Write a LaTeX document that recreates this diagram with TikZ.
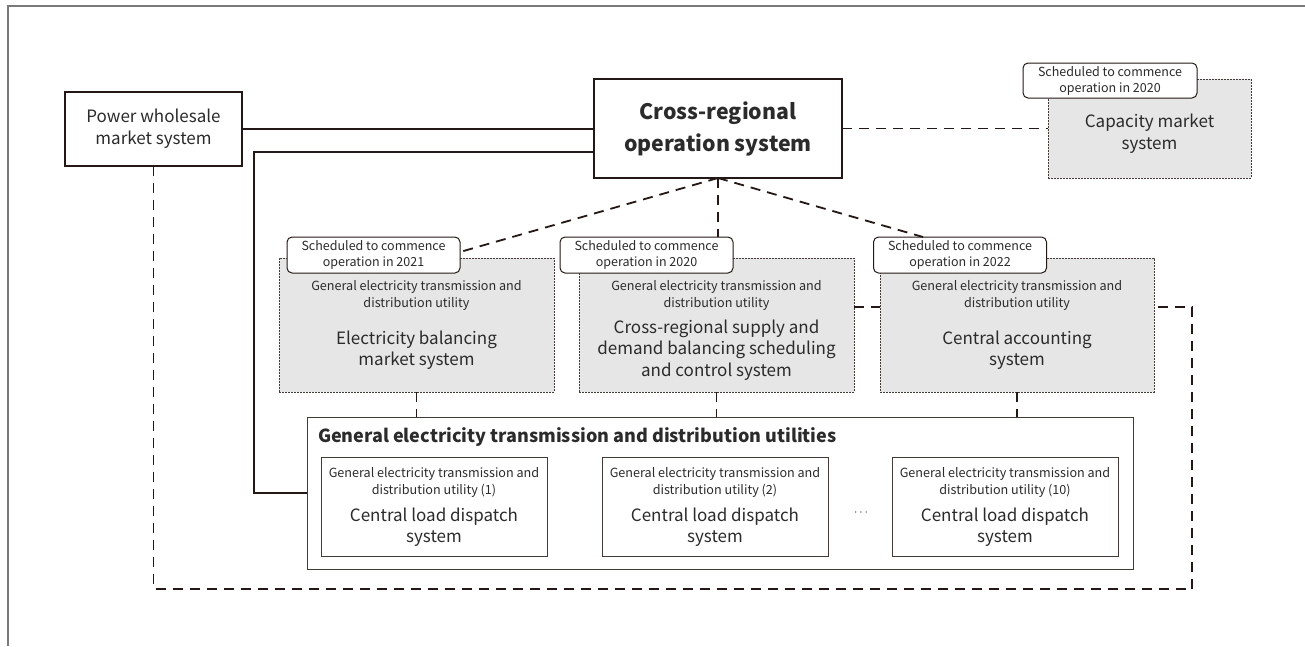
\documentclass[tikz,border=0pt]{standalone}
\usepackage{fontspec}
\setmainfont{Noto Sans CJK JP}
\usetikzlibrary{calc}
\definecolor{ink}{HTML}{231815}
\definecolor{txt}{HTML}{2B2B2B}
\definecolor{greyfill}{HTML}{E6E6E6}
\definecolor{framec}{HTML}{7A7A7A}
\begin{document}
\begin{tikzpicture}[x=1pt,y=-1pt,
  every node/.style={text=txt, inner sep=0pt, outer sep=0pt},
  plainbox/.style={draw=ink, line width=1.2pt, fill=white, minimum width=#1},
  greybox/.style={draw=ink!85, line width=1pt, dash pattern=on 2pt off 1pt, fill=greyfill, minimum width=275pt, minimum height=134pt},
  tagbox/.style={draw=ink, line width=1pt, fill=white, rounded corners=5pt, minimum width=173pt, minimum height=36pt, align=center, font=\fontsize{12.5}{16}\selectfont},
  innerbox/.style={draw=ink!85, line width=1pt, fill=white, minimum width=226pt, minimum height=99pt},
  smalltxt/.style={align=center, font=\fontsize{12.6}{17}\selectfont},
  bigtxt/.style={align=center, font=\fontsize{17}{21.5}\selectfont},
  conn/.style={draw=ink, line width=1.8pt},
  dconn/.style={draw=ink, line width=1.8pt, dash pattern=on 10pt off 7pt}
]
\useasboundingbox (0,0) rectangle (1305,646);
% frame
\draw[framec, line width=1.1pt] (8,646) -- (8,6) -- (1305,6);

% top row
\node[plainbox=177pt, minimum height=74pt, align=center, font=\fontsize{17}{22}\selectfont] (pw) at (153.5,129) {Power wholesale\\market system};
\node[plainbox=248pt, line width=2.2pt, minimum height=99pt, align=center, font=\fontsize{21.3}{32}\selectfont\bfseries] (cross) at (718,128.5) {Cross-regional\\operation system};
\node[greybox, minimum width=203pt, minimum height=99pt] (cap) at (1149.5,128.5) {};
\node[bigtxt] (capt) at (1149.5,133.5) {Capacity market\\system};
\node[tagbox, minimum width=174pt, minimum height=35pt] (captag) at (1110,80.5) {Scheduled to commence\\operation in 2020};

% grey boxes
\node[greybox] (gb1) at (416.5,325) {};
\node[greybox] (gb2) at (716.5,325) {};
\node[greybox, minimum width=274pt] (gb3) at (1017,325) {};

\node[smalltxt] (gb1s) at (416.5,295) {General electricity transmission and\\distribution utility};
\node[bigtxt] (gb1b) at (416.5,350) {Electricity balancing\\market system};
\node[smalltxt] (gb2s) at (716.5,295) {General electricity transmission and\\distribution utility};
\node[bigtxt] (gb2b) at (716.5,350) {Cross-regional supply and\\demand balancing scheduling\\and control system};
\node[smalltxt] (gb3s) at (1017,295) {General electricity transmission and\\distribution utility};
\node[bigtxt] (gb3b) at (1017,350) {Central accounting\\system};

% tags
\node[tagbox] (t1) at (373.5,255) {Scheduled to commence\\operation in 2021};
\node[tagbox] (t2) at (646.5,255) {Scheduled to commence\\operation in 2020};
\node[tagbox] (t3) at (960,255) {Scheduled to commence\\operation in 2022};

% utilities
\node[draw=ink!85, line width=1pt, fill=white, minimum width=826pt, minimum height=152pt] (util) at (720,493) {};
\node[anchor=west, font=\fontsize{18}{22}\selectfont\bfseries] (utilt) at (318,437) {General electricity transmission and distribution utilities};

\node[innerbox] (ib1) at (434,506.5) {};
\node[innerbox] (ib2) at (715,506.5) {};
\node[innerbox] (ib3) at (1005,506.5) {};
\node[smalltxt] (ib1s) at (434,482) {General electricity transmission and\\distribution utility (1)};
\node[bigtxt] (ib1b) at (434,527) {Central load dispatch\\system};
\node[smalltxt] (ib2s) at (715,482) {General electricity transmission and\\distribution utility (2)};
\node[bigtxt] (ib2b) at (715,527) {Central load dispatch\\system};
\node[smalltxt] (ib3s) at (1005,482) {General electricity transmission and\\distribution utility (10)};
\node[bigtxt] (ib3b) at (1005,527) {Central load dispatch\\system};
\node[font=\fontsize{12}{12}\selectfont] (dots) at (861,513) {$\cdots$};

% connectors
\draw[conn] (pw.east) -- (pw.east -| cross.west);
\coordinate (c1) at (254,152);
\draw[conn] (cross.west |- c1) -- (c1) |- (util.west);
\draw[dconn] (cross.east) -- (cap.west);
\coordinate (t1end) at (460,252);
\coordinate (t3end) at (923,237);
\draw[dconn] (cross.south) -- (t1end);
\draw[dconn] (cross.south) -- (cross.south |- t2.north);
\draw[dconn] (cross.south) -- (t3end);
\draw[dconn] (gb1.south) -- (gb1.south |- util.north);
\draw[dconn] (gb2.south) -- (gb2.south |- util.north);
\draw[dconn] (gb3.south) -- (gb3.south |- util.north);
\coordinate (m23) at (0,307);
\draw[dconn] (gb2.east |- m23) -- (gb3.west |- m23);
\coordinate (br) at (1192,589);
\coordinate (rt) at (1192,307);
\draw[dconn] (pw.south) |- (br) -- (rt) -- (gb3.east |- rt);
\end{tikzpicture}
\end{document}
